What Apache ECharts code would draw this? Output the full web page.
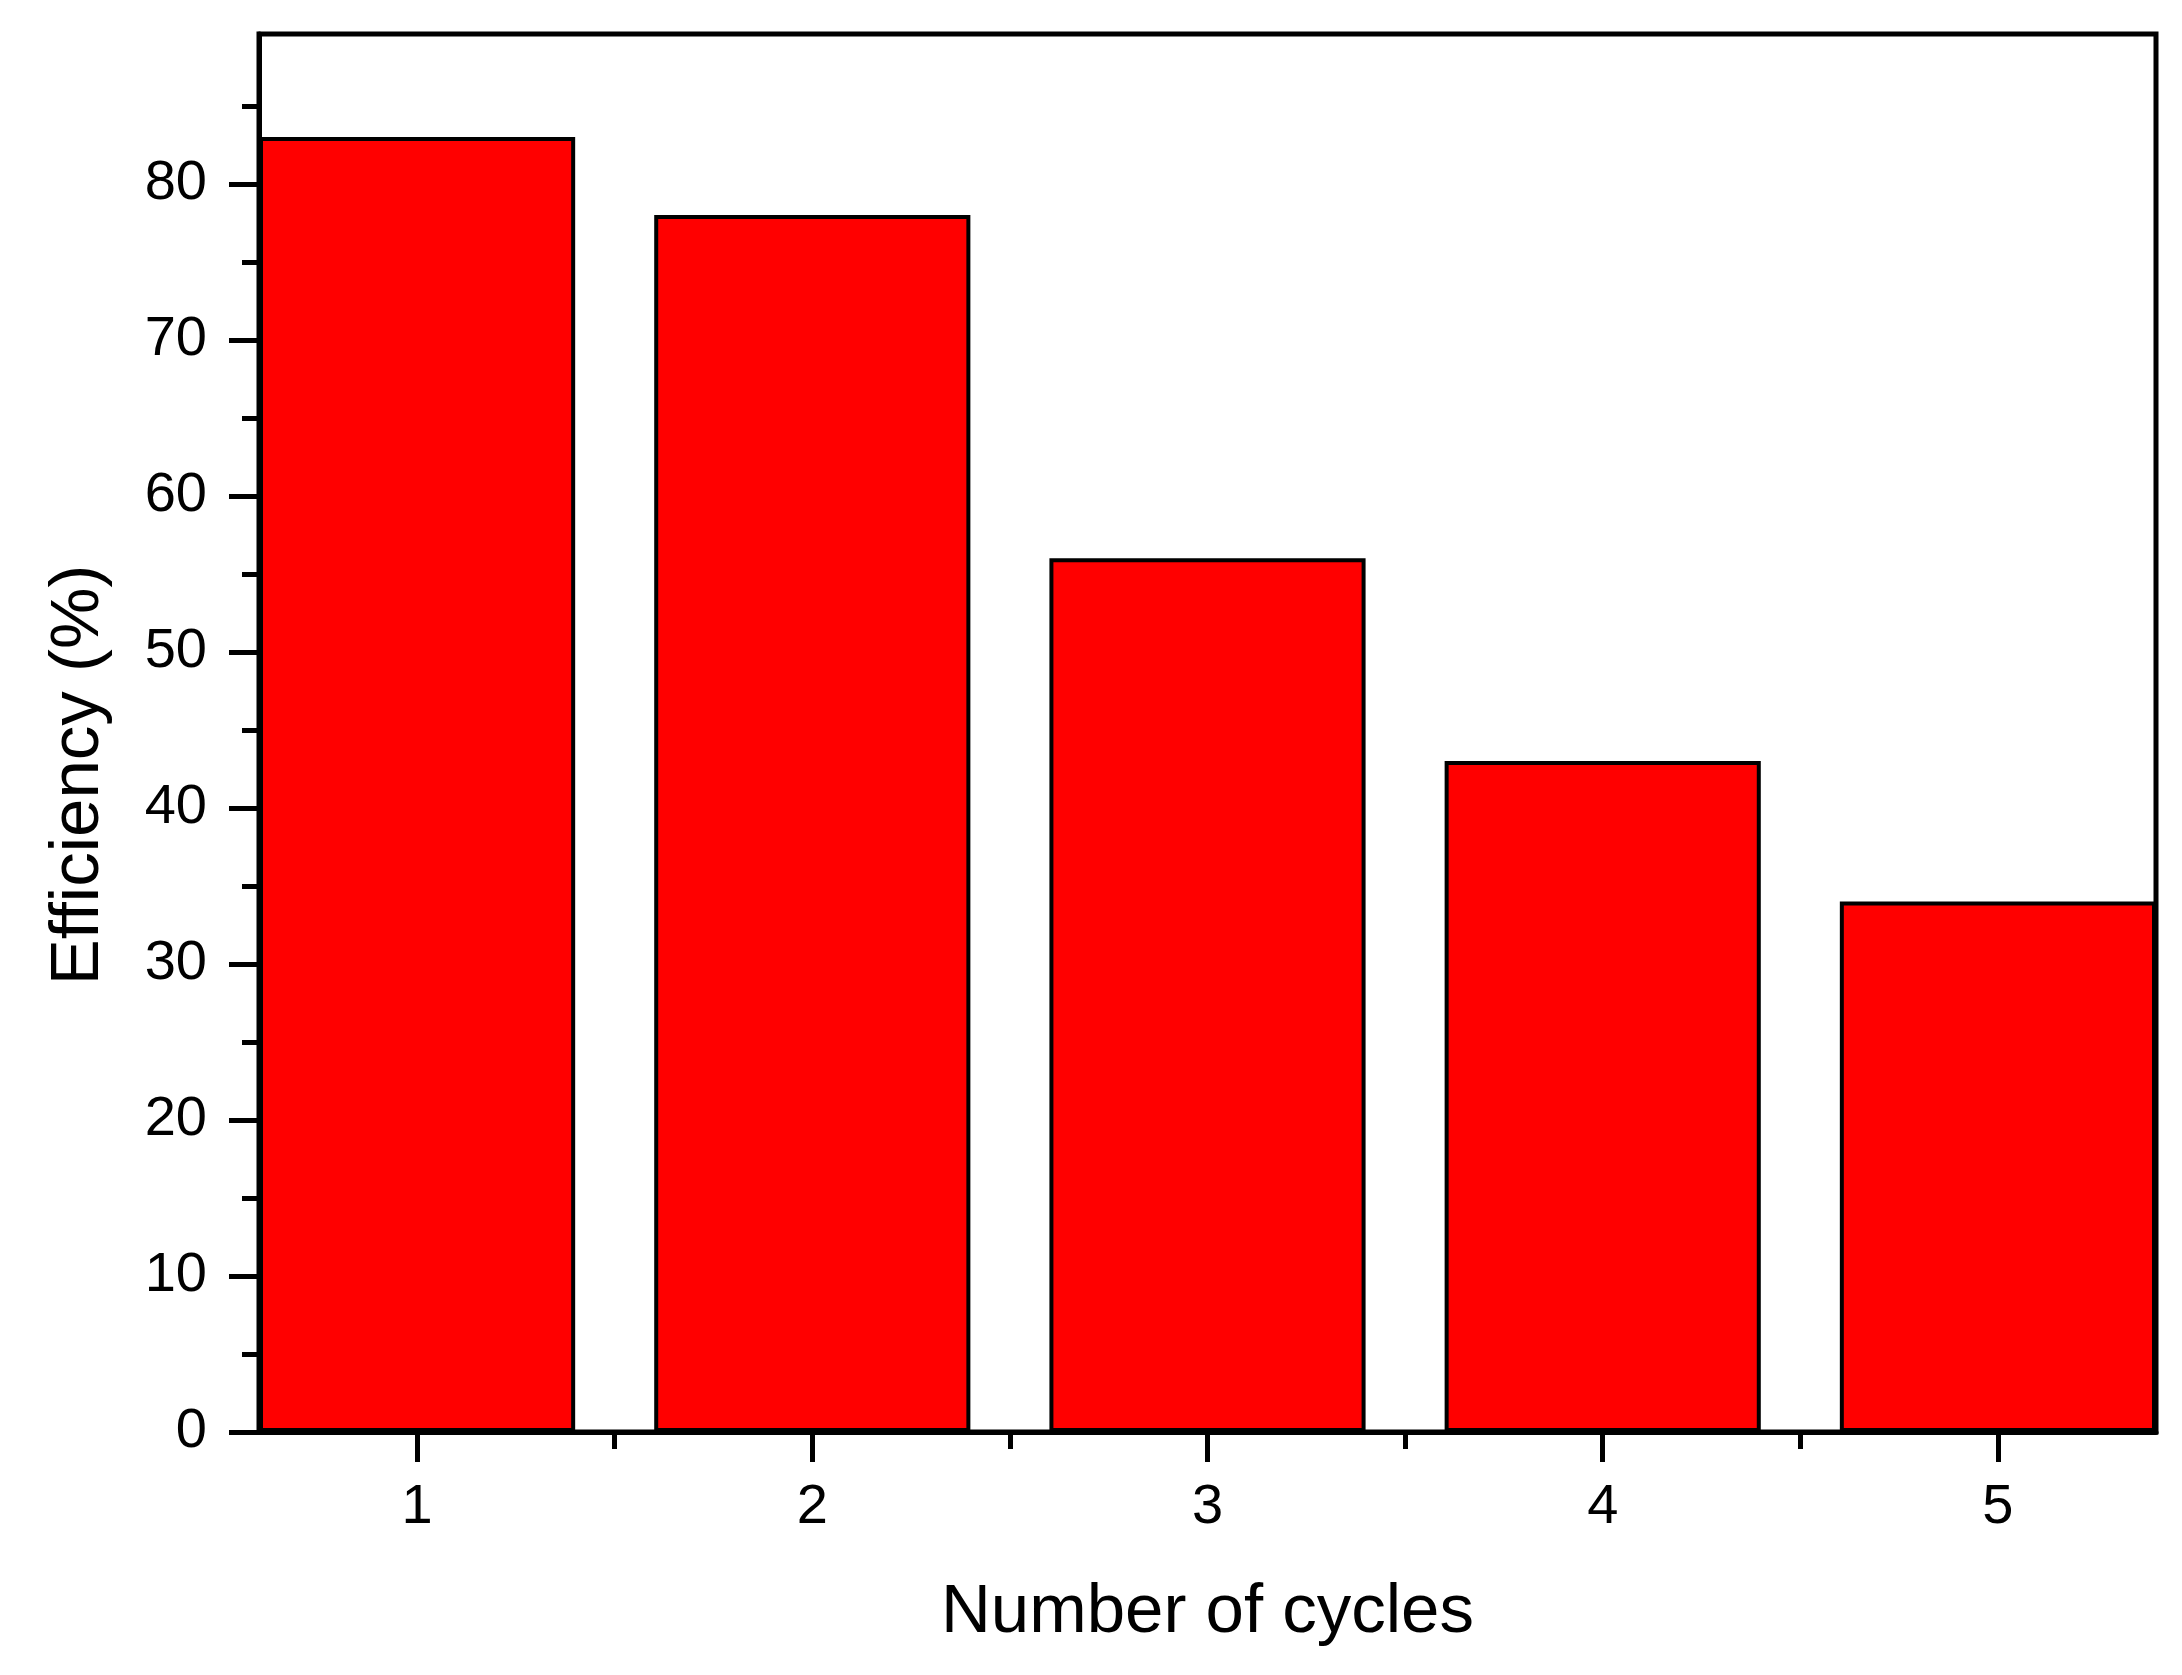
<!DOCTYPE html>
<html>
<head>
<meta charset="utf-8">
<script src="https://cdn.jsdelivr.net/npm/echarts@6/dist/echarts.min.js"></script>
<style>
html,body{margin:0;padding:0;background:#fff;}
#chart{width:2182px;height:1675px;}
</style>
</head>
<body>
<div id="chart"></div>
<script>
var cycles = [1, 2, 3, 4, 5];
var efficiency = [83, 78, 56, 43, 34];
var xMajorTicks = [1, 2, 3, 4, 5];
var xMinorTicks = [1.5, 2.5, 3.5, 4.5];
var yMajorTicks = [0, 10, 20, 30, 40, 50, 60, 70, 80];
var yMinorTicks = [5, 15, 25, 35, 45, 55, 65, 75, 85];
var xTitle = 'Number of cycles';
var yTitle = 'Efficiency (%)';

var FONT = "'Liberation Sans', Arial, sans-serif";
var chart = echarts.init(document.getElementById('chart'), null, {renderer: 'canvas'});

var barData = cycles.map(function (c, i) { return [c, efficiency[i]]; });

var option = {
  animation: false,
  backgroundColor: '#ffffff',
  grid: {
    left: 259, right: 26, top: 34, bottom: 243,
    show: true, borderColor: '#000', borderWidth: 5, backgroundColor: 'transparent'
  },
  xAxis: [
    {
      type: 'value', position: 'bottom', min: 0.6, max: 5.4,
      name: xTitle, nameLocation: 'middle', nameGap: 146,
      nameTextStyle: {fontFamily: FONT, fontSize: 69, color: '#000'},
      axisLine: {show: true, onZero: false, lineStyle: {color: '#000', width: 5}},
      axisTick: {show: true, inside: false, length: 30, lineStyle: {color: '#000', width: 5}, customValues: xMajorTicks},
      axisLabel: {show: true, margin: 48, fontFamily: FONT, fontSize: 56, color: '#000', customValues: xMajorTicks},
      splitLine: {show: false}
    },
    {
      type: 'value', position: 'bottom', min: 0.6, max: 5.4, offset: 0,
      axisLine: {show: false},
      axisTick: {show: true, inside: false, length: 17, lineStyle: {color: '#000', width: 5}, customValues: xMinorTicks},
      axisLabel: {show: false},
      splitLine: {show: false}
    }
  ],
  yAxis: [
    {
      type: 'value', position: 'left', min: 0, max: 89.6,
      name: yTitle, nameLocation: 'middle', nameGap: 146, nameRotate: 90,
      nameTextStyle: {fontFamily: FONT, fontSize: 69, color: '#000', padding: [0, 84, 0, 0]},
      axisLine: {show: true, onZero: false, lineStyle: {color: '#000', width: 5}},
      axisTick: {show: true, inside: false, length: 30, lineStyle: {color: '#000', width: 5}, customValues: yMajorTicks},
      axisLabel: {show: true, margin: 52, fontFamily: FONT, fontSize: 56, color: '#000', customValues: yMajorTicks},
      splitLine: {show: false}
    },
    {
      type: 'value', position: 'left', min: 0, max: 89.6, offset: 0,
      axisLine: {show: false},
      axisTick: {show: true, inside: false, length: 17, lineStyle: {color: '#000', width: 5}, customValues: yMinorTicks},
      axisLabel: {show: false},
      splitLine: {show: false}
    }
  ],
  series: [
    {
      type: 'bar',
      xAxisIndex: 0, yAxisIndex: 0,
      data: barData,
      barWidth: '80%',
      itemStyle: {color: '#ff0000', borderColor: '#000', borderWidth: 4}
    }
  ]
};
chart.setOption(option);
</script>
</body>
</html>
